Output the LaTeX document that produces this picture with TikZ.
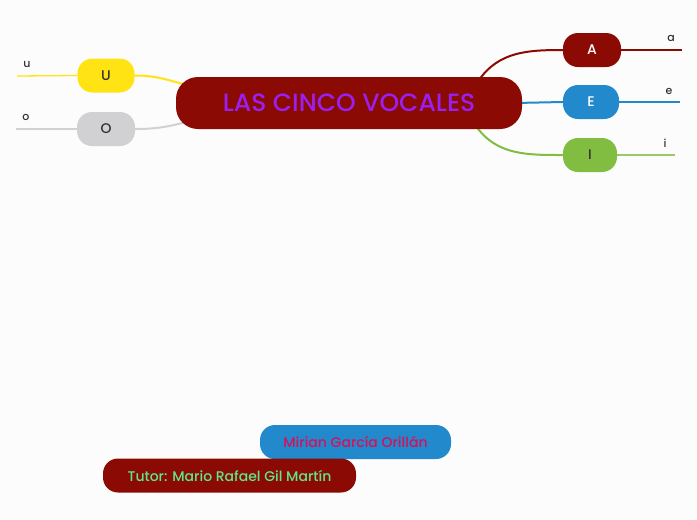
\documentclass[tikz,border=0pt]{standalone}
\usepackage{fontspec}
\setmainfont{Poppins}[UprightFont={* Medium}]
\usetikzlibrary{backgrounds}
\definecolor{bgc}{HTML}{FCFCFC}
\definecolor{dred}{HTML}{8B0A03}
\definecolor{vyellow}{HTML}{FFE313}
\definecolor{vgray}{HTML}{D1D1D3}
\definecolor{vblue}{HTML}{2289CC}
\definecolor{vgreen}{HTML}{80BD41}
\definecolor{vpurple}{HTML}{9B1FF0}
\definecolor{vcrimson}{HTML}{D8105A}
\definecolor{vlgreen}{HTML}{5EE88A}
\definecolor{txt}{HTML}{333333}
\pgfdeclarelayer{bg}
\pgfsetlayers{bg,background,main}
\tikzset{
  x=1pt, y=-1pt,
  mainbox/.style={rounded corners=22pt, fill=dred, minimum width=346pt, minimum height=52pt, inner sep=0pt, text=vpurple, font=\fontsize{25}{28}\selectfont},
  vowel/.style={rounded corners=15pt, minimum height=34pt, inner sep=0pt, font=\fontsize{14}{16}\selectfont},
  leaflab/.style={inner sep=0pt, text=txt, font=\fontsize{11}{13}\selectfont},
  branch/.style={line width=2pt},
  leafline/.style={line width=1.3pt},
  credit/.style={rounded corners=15pt, minimum height=34pt, inner sep=0pt, font=\fontsize{14}{16}\selectfont}
}
\begin{document}
\begin{tikzpicture}
\begin{pgfonlayer}{bg}
\fill[bgc] (0,0) rectangle (697,520);
\end{pgfonlayer}
\useasboundingbox (0,0) rectangle (697,520);

\node[mainbox] (main) at (349,103) {LAS CINCO VOCALES};

\node[vowel, fill=vyellow, minimum width=57pt, text=txt] (U) at (106,75.5) {U};
\node[vowel, fill=vgray, minimum width=58pt, text=txt] (O) at (106,129) {O};
\node[vowel, fill=dred, minimum width=58pt, text=white] (A) at (592,50) {A};
\node[vowel, fill=vblue, minimum width=56pt, text=white] (E) at (591,102) {E};
\node[vowel, fill=vgreen, minimum width=54pt, text=txt] (I) at (590,155) {I};

\coordinate (uend) at (17,76);
\coordinate (oend) at (16,129);
\coordinate (aend) at (682,50);
\coordinate (eend) at (680,102);
\coordinate (iend) at (675,155);

\node[leaflab] (ul) at (27,64.5) {u};
\node[leaflab] (ol) at (26,117.5) {o};
\node[leaflab] (al) at (671,38.5) {a};
\node[leaflab] (el) at (669,91.5) {e};
\node[leaflab] (il) at (665,143.5) {i};

\coordinate (mu) at (190,86);
\coordinate (mo) at (190,121);
\coordinate (ma) at (479,80);
\coordinate (me) at (515,103);
\coordinate (mi) at (476,126);

\begin{scope}[on background layer]
\draw[branch, vyellow] (U.east) to[out=0,in=165] (mu);
\draw[branch, vgray] (O.east) to[out=0,in=195] (mo);
\draw[branch, dred] (ma) to[out=55,in=180] (A.west);
\draw[branch, vblue] (me) -- (E.west);
\draw[branch, vgreen] (mi) to[out=-55,in=180] (I.west);
\draw[leafline, vyellow] (U.west) -- (uend);
\draw[leafline, vgray] (O.west) -- (oend);
\draw[leafline, dred] (A.east) -- (aend);
\draw[leafline, vblue] (E.east) -- (eend);
\draw[leafline, vgreen!80!white] (I.east) -- (iend);
\end{scope}

\node[credit, fill=vblue, minimum width=191pt, text=vcrimson] (mirian) at (355.5,442) {Mirian García Orillán};
\node[credit, fill=dred, minimum width=253pt, text=vlgreen] (tutor) at (229.5,475.5) {Tutor: Mario Rafael Gil Martín};
\end{tikzpicture}
\end{document}
